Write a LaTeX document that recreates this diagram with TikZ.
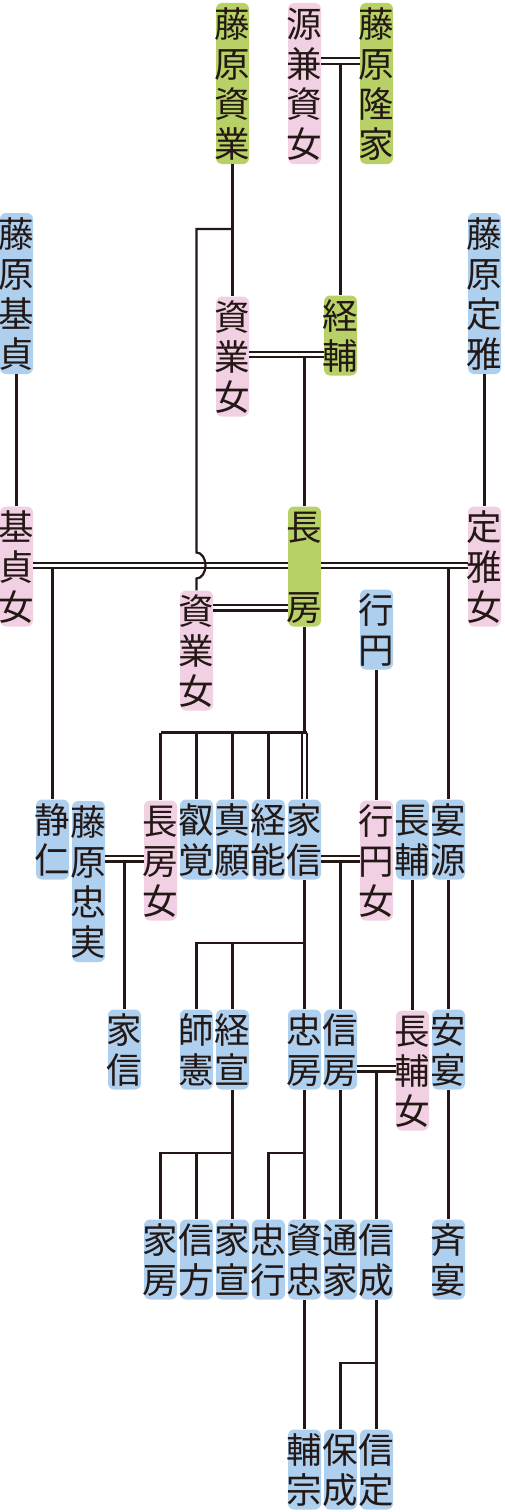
\documentclass[tikz,border=0pt]{standalone}
\usepackage{fontspec}
\newfontfamily\jp{Noto Sans CJK JP}
\definecolor{gr}{RGB}{184,209,102}
\definecolor{pk}{RGB}{240,208,226}
\definecolor{bl}{RGB}{174,208,238}
\definecolor{lc}{RGB}{35,24,21}
\newcommand{\cc}[1]{\hbox to 33pt{\vrule height 33.6pt depth 6.4pt width 0pt\hss#1\hss}}
\newcommand{\person}[6]{%
  \pgfmathsetmacro\hh{42*#4-7}%
  \node[pbox, fill=#5, minimum height=\hh pt] (#1) at ({16.5+36*#2},{#3+\hh/2}) {\vbox{\offinterlineskip #6}};}
\newcommand{\marr}[4]{%
  \draw[ln] (#1.east |- 0,#3) -- (#2.west |- 0,#3);
  \draw[ln] (#1.east |- 0,#4) -- (#2.west |- 0,#4);}
\tikzset{
  pbox/.style={rectangle, rounded corners=6pt, inner sep=0pt, minimum width=33pt,
    text=lc, font=\jp\fontsize{35.5}{40}\selectfont},
  ln/.style={draw=lc, line width=2.2pt},
}
\begin{document}
\begin{tikzpicture}[x=1pt,y=-1pt]
\useasboundingbox (0,0) rectangle (504,1512);
% Row A
\person{sukenari}{6}{3}{4}{gr}{\cc{藤}\cc{原}\cc{資}\cc{業}}
\person{kanesuke}{8}{3}{4}{pk}{\cc{源}\cc{兼}\cc{資}\cc{女}}
\person{takaie}{10}{3}{4}{gr}{\cc{藤}\cc{原}\cc{隆}\cc{家}}
% Row B
\person{motosada}{0}{213}{4}{bl}{\cc{藤}\cc{原}\cc{基}\cc{貞}}
\person{sukejoA}{6}{297}{3}{pk}{\cc{資}\cc{業}\cc{女}}
\person{tsunesuke}{9}{297}{2}{gr}{\cc{経}\cc{輔}}
\person{sadamasa}{13}{213}{4}{bl}{\cc{藤}\cc{原}\cc{定}\cc{雅}}
% Row C
\person{motojo}{0}{507}{3}{pk}{\cc{基}\cc{貞}\cc{女}}
\person{nagafusa}{8}{507}{3}{gr}{\cc{長}\cc{}\cc{房}}
\person{sadajo}{13}{507}{3}{pk}{\cc{定}\cc{雅}\cc{女}}
\person{sukejoB}{5}{591}{3}{pk}{\cc{資}\cc{業}\cc{女}}
\person{gyoen}{10}{591}{2}{bl}{\cc{行}\cc{円}}
% Row D
\person{seinin}{1}{801}{2}{bl}{\cc{静}\cc{仁}}
\person{tadazane}{2}{801}{4}{bl}{\cc{藤}\cc{原}\cc{忠}\cc{実}}
\person{nagajo}{4}{801}{3}{pk}{\cc{長}\cc{房}\cc{女}}
\person{eikaku}{5}{801}{2}{bl}{\cc{叡}\cc{覚}}
\person{shingan}{6}{801}{2}{bl}{\cc{真}\cc{願}}
\person{tsuneyoshi}{7}{801}{2}{bl}{\cc{経}\cc{能}}
\person{ienobu}{8}{801}{2}{bl}{\cc{家}\cc{信}}
\person{gyoenjo}{10}{801}{3}{pk}{\cc{行}\cc{円}\cc{女}}
\person{nagasuke}{11}{801}{2}{bl}{\cc{長}\cc{輔}}
\person{engen}{12}{801}{2}{bl}{\cc{宴}\cc{源}}
% Row E
\person{ienobuB}{3}{1011}{2}{bl}{\cc{家}\cc{信}}
\person{moronori}{5}{1011}{2}{bl}{\cc{師}\cc{憲}}
\person{tsunenobu}{6}{1011}{2}{bl}{\cc{経}\cc{宣}}
\person{tadafusa}{8}{1011}{2}{bl}{\cc{忠}\cc{房}}
\person{nobufusa}{9}{1011}{2}{bl}{\cc{信}\cc{房}}
\person{nagasukejo}{11}{1011}{3}{pk}{\cc{長}\cc{輔}\cc{女}}
\person{anen}{12}{1011}{2}{bl}{\cc{安}\cc{宴}}
% Row F
\person{iefusa}{4}{1221}{2}{bl}{\cc{家}\cc{房}}
\person{nobukata}{5}{1221}{2}{bl}{\cc{信}\cc{方}}
\person{ienobuC}{6}{1221}{2}{bl}{\cc{家}\cc{宣}}
\person{tadayuki}{7}{1221}{2}{bl}{\cc{忠}\cc{行}}
\person{suketada}{8}{1221}{2}{bl}{\cc{資}\cc{忠}}
\person{michiie}{9}{1221}{2}{bl}{\cc{通}\cc{家}}
\person{nobunari}{10}{1221}{2}{bl}{\cc{信}\cc{成}}
\person{seien}{12}{1221}{2}{bl}{\cc{斉}\cc{宴}}
% Row G
\person{sukemune}{8}{1431}{2}{bl}{\cc{輔}\cc{宗}}
\person{yasunari}{9}{1431}{2}{bl}{\cc{保}\cc{成}}
\person{nobusada}{10}{1431}{2}{bl}{\cc{信}\cc{定}}
% coordinates
\coordinate (jA) at (196.5,229);
\coordinate (jump) at (196.5,552.5);
\coordinate (bar1) at (304.5,732.5);
\coordinate (bar2) at (196.5,942.7);
\coordinate (bar3) at (160.5,1152.7);
\coordinate (bar4) at (268.5,1152.7);
\coordinate (bar5) at (340.5,1363.3);
% connectors
\draw[ln] (sukenari.south) -- (sukejoA.north);
\draw[ln] (sukenari.south |- jA) -- (jA) -- (jump)
  arc[start angle=90,end angle=-90,x radius=9pt,y radius=13pt] -- (sukejoB.north);
\marr{kanesuke}{takaie}{58.3}{63.8}
\draw[ln] (340.5,63.8) -- (tsunesuke.north);
\marr{sukejoA}{tsunesuke}{351.7}{357.3}
\draw[ln] (304.5,357.3) -- (nagafusa.north);
\draw[ln] (motosada.south) -- (motojo.north);
\draw[ln] (sadamasa.south) -- (sadajo.north);
\marr{motojo}{nagafusa}{562.7}{568.3}
\marr{nagafusa}{sadajo}{562.7}{568.3}
\draw[ln] (seinin.north |- 0,568.3) -- (seinin.north);
\draw[ln] (engen.north |- 0,568.3) -- (engen.north);
\marr{sukejoB}{nagafusa}{605}{610.5}
\draw[ln] (nagafusa.south) -- (bar1);
\draw[ln] (nagajo.north |- bar1) -- (306.7,732.5);
\draw[ln] (nagajo.north |- bar1) -- (nagajo.north);
\draw[ln] (eikaku.north |- bar1) -- (eikaku.north);
\draw[ln] (shingan.north |- bar1) -- (shingan.north);
\draw[ln] (tsuneyoshi.north |- bar1) -- (tsuneyoshi.north);
\draw[ln] ([xshift=-2.3pt]ienobu.north |- bar1) -- ([xshift=-2.3pt]ienobu.north);
\draw[ln] ([xshift=2.2pt]ienobu.north |- bar1) -- ([xshift=2.2pt]ienobu.north);
\draw[ln] (gyoen.south) -- (gyoenjo.north);
\marr{tadazane}{nagajo}{856}{861.5}
\draw[ln] (ienobuB.north |- 0,861.5) -- (ienobuB.north);
\marr{ienobu}{gyoenjo}{856}{861.5}
\draw[ln] (nobufusa.north |- 0,861.5) -- (nobufusa.north);
\draw[ln] (ienobu.south) -- (tadafusa.north);
\draw[ln] (tadafusa.north |- bar2) -- (bar2) -- (moronori.north);
\draw[ln] (tsunenobu.north |- bar2) -- (tsunenobu.north);
\draw[ln] (nagasuke.south) -- (nagasukejo.north);
\draw[ln] (engen.south) -- (anen.north);
\marr{nobufusa}{nagasukejo}{1066}{1071.5}
\draw[ln] (nobunari.north |- 0,1071.5) -- (nobunari.north);
\draw[ln] (tsunenobu.south) -- (ienobuC.north);
\draw[ln] (ienobuC.north |- bar3) -- (bar3) -- (iefusa.north);
\draw[ln] (nobukata.north |- bar3) -- (nobukata.north);
\draw[ln] (tadafusa.south) -- (suketada.north);
\draw[ln] (suketada.north |- bar4) -- (bar4) -- (tadayuki.north);
\draw[ln] (nobufusa.south) -- (michiie.north);
\draw[ln] (anen.south) -- (seien.north);
\draw[ln] (suketada.south) -- (sukemune.north);
\draw[ln] (nobunari.south) -- (nobusada.north);
\draw[ln] (nobusada.north |- bar5) -- (bar5) -- (yasunari.north);
\end{tikzpicture}
\end{document}
